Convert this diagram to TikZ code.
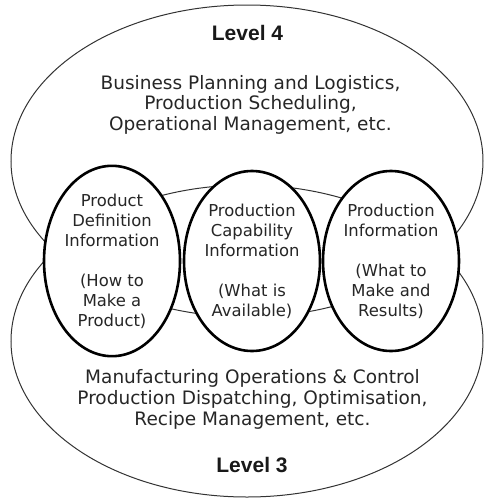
\documentclass[tikz,border=0pt]{standalone}
\usepackage{fontspec}
\setmainfont{DejaVu Sans}
\newfontfamily\lvlfont{Liberation Sans}
\usetikzlibrary{shapes.geometric}
\begin{document}
\begin{tikzpicture}[x=1pt,y=-1pt,
  bigell/.style={ellipse, draw=black!80, line width=1pt, inner sep=0pt,
    minimum width=472pt, minimum height=312pt},
  infoell/.style={ellipse, draw=black, line width=2.6pt, fill=white, inner sep=0pt,
    minimum width=136pt, minimum height=180pt, align=center, text=black!85,
    font=\fontsize{16.4}{20}\selectfont},
  bodytext/.style={align=center, text=black!85, inner sep=0pt,
    font=\fontsize{18.5}{20.8}\selectfont},
  leveltext/.style={inner sep=0pt, text=black!90,
    font=\lvlfont\bfseries\fontsize{21}{24}\selectfont}]
\useasboundingbox (0,0) rectangle (484,499);
\node[bigell] (L4) at (247,161) {};
\node[bigell] (L3) at (247,341) {};
\node[infoell] (pdi) at (112,261) {Product\\Definition\\Information\\[20pt](How to\\Make a\\Product)};
\node[infoell] (pci) at (252,261) {Production\\Capability\\Information\\[20pt](What is\\Available)};
\node[infoell] (pin) at (391,261) {Production\\Information\\[20pt](What to\\Make and\\Results)};
\node[leveltext, anchor=base] (lvl4) at (247.5,40.7) {Level 4};
\node[bodytext] (l4body) at (250.5,104.7) {Business Planning and Logistics,\\Production Scheduling,\\Operational Management, etc.};
\node[bodytext] (l3body) at (252.5,399.2) {Manufacturing Operations \& Control\\Production Dispatching, Optimisation,\\Recipe Management, etc.};
\node[leveltext, anchor=base] (lvl3) at (252,472) {Level 3};
\end{tikzpicture}
\end{document}
